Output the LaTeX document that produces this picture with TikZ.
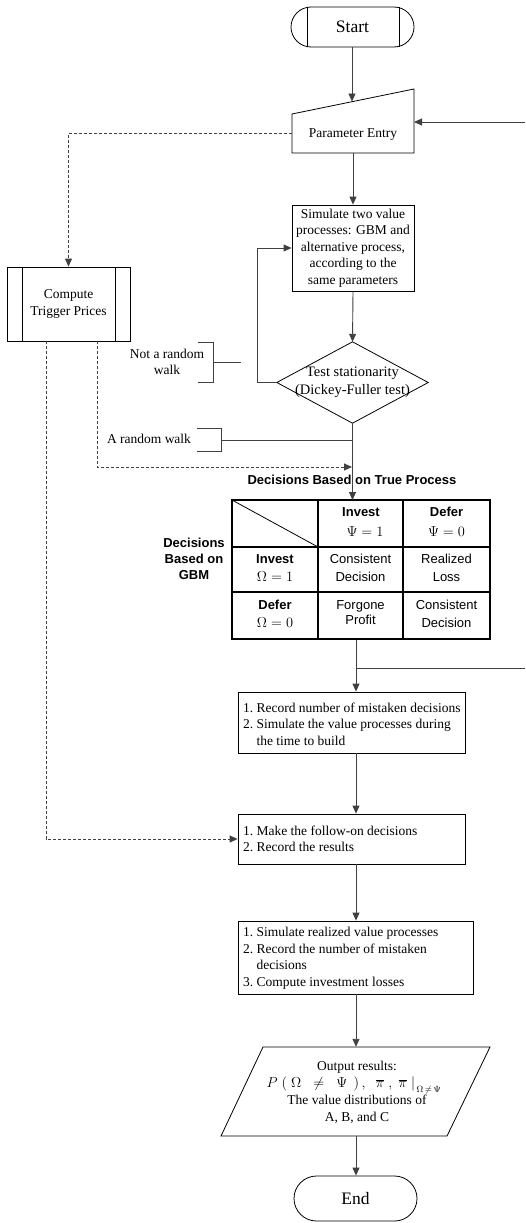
\documentclass[tikz,border=0pt]{standalone}
\usepackage{fontspec}
\setmainfont{Liberation Serif}
\setsansfont{Liberation Sans}
\usetikzlibrary{arrows.meta,shapes.misc,calc}
\begin{document}
\begin{tikzpicture}[x=1pt,y=-1pt,
  conn/.style={line width=0.9pt, draw=black!75, -{Triangle[length=8pt,width=7pt]}},
  plain/.style={line width=0.9pt, draw=black!75},
  dconn/.style={conn, dash pattern=on 3pt off 2pt},
  box/.style={draw, line width=0.8pt, inner sep=0pt},
  ghost/.style={draw=none, inner sep=0pt},
  txt/.style={font=\fontsize{13.5}{16.5}\selectfont, align=center},
  bigtxt/.style={font=\fontsize{17.5}{20}\selectfont},
  stxt/.style={font=\sffamily\fontsize{13}{18}\selectfont, align=center},
  bstxt/.style={font=\sffamily\bfseries\fontsize{13}{16}\selectfont, align=center},
  ltxt/.style={font=\fontsize{13.5}{16.5}\selectfont, align=left},
]
\useasboundingbox (0,0) rectangle (525,1223);

% Start
\node[rounded rectangle, box, minimum width=123pt, minimum height=40pt, bigtxt] (start) at (352.5,27) {Start};
\draw[line width=0.8pt] (307,7) -- (307,47) (399,7) -- (399,47);

% Parameter entry (manual input)
\node[ghost, minimum width=122pt, minimum height=64pt] (pe) at (353,121) {};
\draw[line width=0.8pt] (292,114) -- (414,89) -- (414,153) -- (292,153) -- cycle;
\node[txt] (pet) at (353,135) {Parameter Entry};
\coordinate (pein) at (352,101.5);
\coordinate (peleft) at (292,133);
\coordinate (peright) at (414,122);
\coordinate (re1) at (525,122);

% Compute trigger prices
\node[box, minimum width=123pt, minimum height=74pt, txt] (comp) at (68.5,304) {Compute\\Trigger Prices};
\draw[line width=0.8pt] (22,267) -- (22,341) (115,267) -- (115,341);

% Simulate
\node[box, minimum width=122pt, minimum height=86pt, txt] (sim) at (353,248)
  {Simulate two value\\processes: GBM and\\alternative process,\\according to the\\same parameters};

% Diamond
\node[ghost, minimum width=151pt, minimum height=81pt] (dia) at (352.5,382.5) {};
\draw[line width=0.8pt] (dia.west) -- (dia.north) -- (dia.east) -- (dia.south) -- cycle;
\node[txt, font=\fontsize{14.5}{17.5}\selectfont] (diat) at (352.5,382.5) {Test stationarity\\(Dickey-Fuller test)};

% Labels with brackets
\node[txt] (nrw) at (167,362) {Not a random\\walk};
\draw[plain] (198,342) -- (213,342) -- (213,382) -- (198,382);
\draw[plain] (213,362) -- (241,362);
\node[txt] (arw) at (149,439) {A random walk};
\draw[plain] (197,428) -- (221,428) -- (221,451) -- (197,451);
\coordinate (arwb) at (221,440);
\coordinate (arwj) at (352.5,440);

% Table
\node[bstxt] (ttl) at (352,480) {Decisions Based on True Process};
\node[bstxt] (gbm) at (194,559) {Decisions\\Based on\\GBM};
\node[ghost, minimum width=258pt, minimum height=139pt] (tbl) at (361,569.5) {};
\draw[line width=1.2pt] (318,500) -- (318,639) (403,500) -- (403,639)
  (232,547) -- (490,547) (232,592) -- (490,592);
\draw[line width=0.8pt] (232,500) -- (318,547);
\draw[line width=2pt] (232,500) rectangle (490,639);
\coordinate (tblin) at (352.5,500);

\node[bstxt] (h1) at (361,512) {Invest};
\node[txt] (h1s) at (365,532) {$\Psi = 1$};
\node[bstxt] (h2) at (446.5,512) {Defer};
\node[txt] (h2s) at (446.5,532) {$\Psi = 0$};
\node[bstxt] (r1) at (275,559) {Invest};
\node[txt] (r1s) at (275,577) {$\Omega = 1$};
\node[bstxt] (r2) at (275,605) {Defer};
\node[txt] (r2s) at (275,623) {$\Omega = 0$};
\node[stxt] (c11) at (360.5,568) {Consistent\\Decision};
\node[stxt] (c12) at (446.5,568) {Realized\\Loss};
\node[stxt, font=\sffamily\fontsize{13}{15.5}\selectfont] (c21) at (360.5,612.5) {Forgone\\Profit};
\node[stxt] (c22) at (446.5,614) {Consistent\\Decision};

\coordinate (tblout) at (356,640);
\coordinate (jr) at (356,668);
\coordinate (re2) at (525,668);

% Boxes
\node[box, minimum width=227pt, minimum height=61pt] (b1) at (351.5,722.5) {};
\node[ltxt, anchor=north west] (b1t) at (239.5,699) {1.\ Record number of mistaken decisions\\2.\ Simulate the value processes during\\\phantom{2.\ }the time to build};

\node[box, minimum width=227pt, minimum height=50pt] (b2) at (351.5,839) {};
\node[ltxt, anchor=north west] (b2t) at (239.5,822) {1.\ Make the follow-on decisions\\2.\ Record the results};

\node[box, minimum width=235pt, minimum height=73pt] (b3) at (355.5,957.5) {};
\node[ltxt, anchor=north west] (b3t) at (239.5,924) {1.\ Simulate realized value processes\\2.\ Record the number of mistaken\\\phantom{2.\ }decisions\\3.\ Compute investment losses};

% Output parallelogram
\node[ghost, minimum width=269pt, minimum height=89pt] (out) at (355.5,1091.5) {};
\draw[line width=0.8pt] (263,1047) -- (490,1047) -- (447,1136) -- (221,1136) -- cycle;
\node[txt] (o1) at (357,1067) {Output results:};
\node[txt, inner sep=0pt] (o2) at (354,1085.5) {$P\;(\;\Omega\;\;\neq\;\;\Psi\;\,)\,,\;\;\overline{\pi}\;,\;\overline{\pi}\;\bigr|_{\,\Omega\,\neq\,\Psi}$};
\node[txt] (o3) at (357,1100) {The value distributions of};
\node[txt] (o4) at (357,1118) {A, B, and C};

% End
\node[rounded rectangle, box, minimum width=123pt, minimum height=45pt, bigtxt] (end) at (355.5,1198.5) {End};

% Connectors
\draw[conn] (start.south -| pein) -- (pein);
\draw[conn] (re1) -- (peright);
\draw[conn] (pe.south -| sim) -- (sim.north);
\draw[dconn] (peleft) -| (comp.north);
\draw[conn] (sim.south) -- (dia.north);
\draw[conn] (dia.west) -- ++(-19.5,0) |- (sim.west);
\draw[conn] (dia.south) -- (tblin);
\draw[plain] (arwb) -- (arwj);
\draw[dconn] ($(comp.south)+(28.5,0)$) |- (352,467);
\draw[dconn] ($(comp.south)+(-22.5,0)$) |- (b2.west);
\draw[plain] (jr) -- (re2);
\draw[conn] (tblout) -- (b1.north -| tblout);
\draw[conn] (b1.south -| tblout) -- (b2.north -| tblout);
\draw[conn] (b2.south -| tblout) -- (b3.north -| tblout);
\draw[conn] (b3.south -| tblout) -- (out.north -| tblout);
\draw[conn] (out.south -| tblout) -- (end.north -| tblout);
\end{tikzpicture}
\end{document}
